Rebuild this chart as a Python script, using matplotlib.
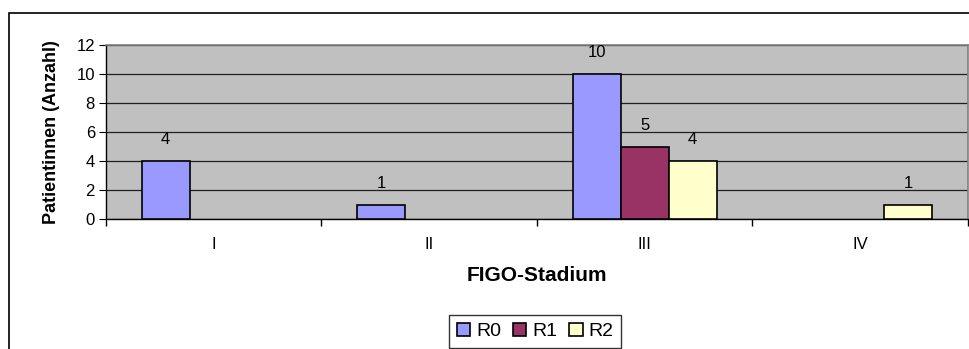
import matplotlib.pyplot as plt
import numpy as np
from matplotlib.patches import Rectangle

plt.rcParams["font.family"] = ["Liberation Sans", "DejaVu Sans"]

stages = ["I", "II", "III", "IV"]
series = ["R0", "R1", "R2"]
r0 = [4, 1, 10, 0]
r1 = [0, 0, 5, 0]
r2 = [0, 0, 4, 1]
colors = ["#9999FF", "#993366", "#FFFFCC"]

W, H = 970, 349
fig = plt.figure(figsize=(W / 100, H / 100), dpi=100)
ax = fig.add_axes([106 / W, 1 - 219 / H, (968 - 106) / W, (219 - 45) / H])

# outer chart border (cut off at right and bottom)
fig.patches.append(Rectangle((9.5 / W, -0.1), 1.2, 1 - 13 / H + 0.1,
                             transform=fig.transFigure, fill=False,
                             edgecolor="black", linewidth=1.2))

ax.set_facecolor("#C0C0C0")
x = np.arange(len(stages))
width = 48 / 215.5
values = [r0, r1, r2]
for i, (name, vals, col) in enumerate(zip(series, values, colors)):
    pos = x + (i - 1) * width
    # empty categories get no bar at all
    heights = [v if v > 0 else np.nan for v in vals]
    ax.bar(pos, heights, width=width, color=col, edgecolor="black", linewidth=1.2,
           label=name, zorder=3)
    for p, v in zip(pos, vals):
        if v > 0:
            ax.annotate(str(v), (p, v), xytext=(0, 10), textcoords="offset points",
                        ha="center", va="bottom", fontsize=12)

ax.set_xlim(-0.5, len(stages) - 0.5)
ax.set_ylim(0, 12)
ax.set_yticks(np.arange(0, 13, 2))
ax.yaxis.grid(True, color="#202020", linewidth=0.9, zorder=0)
ax.set_axisbelow(True)

ax.set_xticks(x)
ax.set_xticklabels(stages, fontsize=12)
ax.set_xticks(np.arange(-0.5, len(stages), 1), minor=True)
ax.tick_params(axis="x", which="major", length=0, pad=13)
ax.tick_params(axis="x", which="minor", length=5, direction="out", width=1)
ax.tick_params(axis="y", length=5, direction="out", labelsize=12, pad=3)

for s in ["top", "right"]:
    ax.spines[s].set_color("#808080")
    ax.spines[s].set_linewidth(1.2)
for s in ["left", "bottom"]:
    ax.spines[s].set_color("black")
    ax.spines[s].set_linewidth(1)

ax.set_xlabel("FIGO-Stadium", fontsize=15, fontweight="bold", labelpad=10)
ax.set_ylabel("Patientinnen (Anzahl)", fontsize=13, fontweight="bold", labelpad=12)

leg = fig.legend(loc="upper center", bbox_to_anchor=(535 / W, 1 - 315 / H),
                 ncol=3, frameon=True, fancybox=False, edgecolor="black",
                 fontsize=14, handlelength=0.7, handleheight=0.7,
                 handletextpad=0.3, columnspacing=0.6, borderpad=0.4,
                 borderaxespad=0)
leg.get_frame().set_linewidth(1)

fig.savefig("out.png", dpi=100)
